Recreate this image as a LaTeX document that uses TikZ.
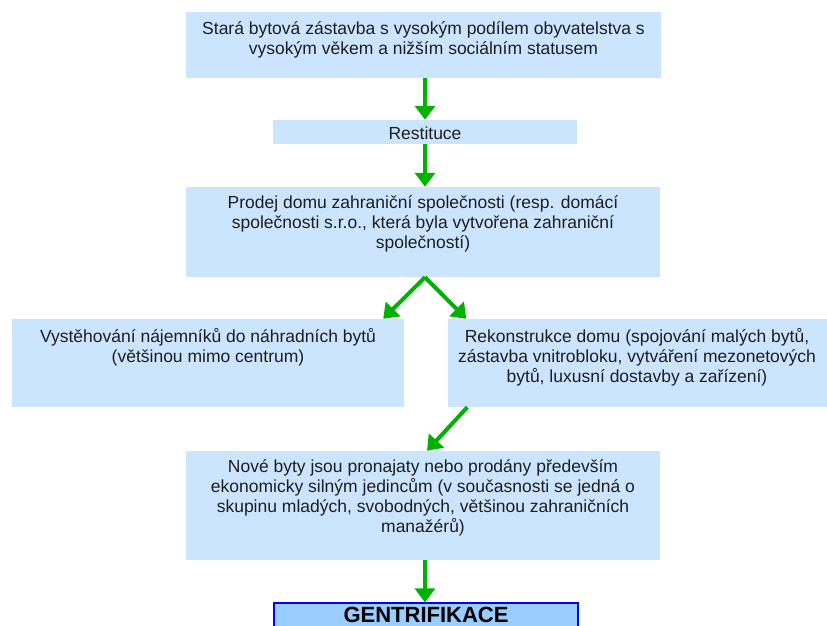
\documentclass[tikz,border=0pt]{standalone}
\usepackage{fontspec}
\setmainfont{Liberation Sans}
\usetikzlibrary{arrows.meta}
\definecolor{boxblue}{RGB}{204,229,255}
\definecolor{gentblue}{RGB}{153,204,255}
\definecolor{arrgreen}{RGB}{0,178,0}
\definecolor{txt}{RGB}{30,30,30}
\tikzset{
  x=1pt, y=-1pt,
  box/.style={fill=boxblue, draw=none, inner sep=0, minimum width=#1},
  txtnode/.style={anchor=north, inner sep=0, align=center, text=txt,
    font=\fontsize{17.5}{20}\selectfont},
  arr/.style={draw=arrgreen, line width=4pt, -{Triangle[width=20pt,length=14pt]}}
}
\begin{document}
\begin{tikzpicture}
\useasboundingbox (0,0) rectangle (827,626);
% boxes
\node[box=475, minimum height=66] (b1) at (423.5,45) {};
\node[box=304, minimum height=24] (b2) at (425,132) {};
\node[box=474, minimum height=90] (b3) at (423,232) {};
\node[box=392, minimum height=88] (bl) at (208,363) {};
\node[box=379, minimum height=88] (br) at (637,363) {};
\node[box=474, minimum height=109] (b5) at (423,505.5) {};
\node[box=304, minimum height=28, fill=gentblue, draw={rgb,255:red,0;green,0;blue,255}, line width=1.2pt] (b6) at (426,617) {};
% texts
\node[txtnode] (t1) at ([yshift=-10]b1.north) {Stará bytová zástavba s vysokým podílem obyvatelstva s\\vysokým věkem a nižším sociálním statusem};
\node[txtnode, anchor=center] (t2) at ([yshift=-1]b2.center) {Restituce};
\node[txtnode] (t3) at ([yshift=-9]b3.north) {Prodej domu zahraniční společnosti (resp. domácí\\společnosti s.r.o., která byla vytvořena zahraniční\\společností)};
\node[txtnode] (tl) at ([yshift=-9]bl.north) {Vystěhování nájemníků do náhradních bytů\\(většinou mimo centrum)};
\node[txtnode] (tr) at ([yshift=-9]br.north) {Rekonstrukce domu (spojování malých bytů,\\zástavba vnitrobloku, vytváření mezonetových\\bytů, luxusní dostavby a zařízení)};
\node[txtnode] (t5) at ([yshift=-9]b5.north) {Nové byty jsou pronajaty nebo prodány především\\ekonomicky silným jedincům (v současnosti se jedná o\\skupinu mladých, svobodných, většinou zahraničních\\manažérů)};
\node[anchor=north, inner sep=0, font=\bfseries\fontsize{22}{24}\selectfont, text=black] (t6) at ([yshift=-5]b6.north) {GENTRIFIKACE};
% arrows
\draw[arr] (b2.north |- b1.south) -- (b2.north);
\draw[arr] (b2.south) -- (b2.south |- b3.north);
\draw[arr] ([xshift=2pt]b3.south) -- ([xshift=-21pt]bl.north east);
\draw[arr] ([xshift=2pt]b3.south) -- ([xshift=19pt]br.north west);
\draw[arr] ([xshift=20pt]br.south west) -- ([xshift=4pt]b5.north);
\draw[arr] ([xshift=2pt]b5.south) -- ([xshift=-1pt]b6.north);
\end{tikzpicture}
\end{document}
